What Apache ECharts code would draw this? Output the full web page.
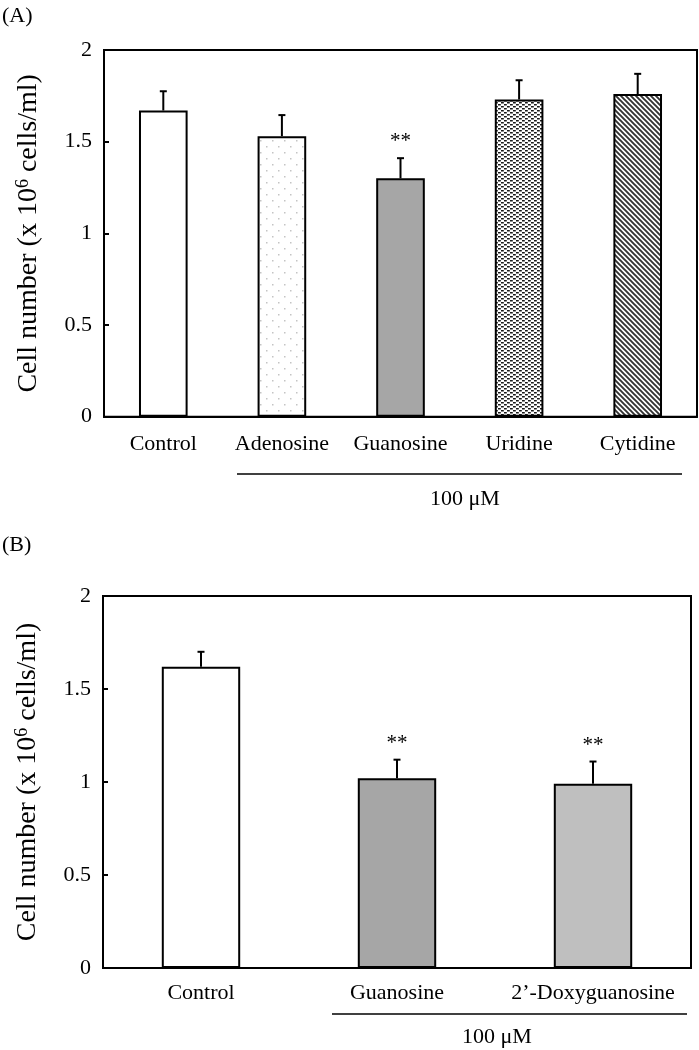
<!DOCTYPE html>
<html>
<head>
<meta charset="utf-8">
<script src="https://cdn.jsdelivr.net/npm/echarts@6/dist/echarts.min.js"></script>
<style>
  html, body { margin: 0; padding: 0; background: #fff; }
  #main { width: 699px; height: 1050px; }
</style>
</head>
<body>
<div id="main"></div>
<script>
// panel A data
const catsA = ['Control', 'Adenosine', 'Guanosine', 'Uridine', 'Cytidine'];
const meanA = [1.67, 1.53, 1.30, 1.73, 1.76];
const errA = [0.105, 0.115, 0.11, 0.105, 0.11];
const sigA = ['', '', '**', '', ''];

// panel B data
const catsB = ['Control', 'Guanosine', '2\u2019-Doxyguanosine'];
const meanB = [1.62, 1.02, 0.99];
const errB = [0.08, 0.10, 0.12];
const sigB = ['', '**', '**'];

const yTicks = [0, 0.5, 1, 1.5, 2];
const FONT = '"Liberation Serif", "Times New Roman", serif';

// small canvas tiles for bar fills
function tile(w, h, draw) {
    const c = document.createElement('canvas');
    c.width = w; c.height = h;
    const ctx = c.getContext('2d');
    ctx.fillStyle = '#fff';
    ctx.fillRect(0, 0, w, h);
    draw(ctx);
    return { image: c, repeat: 'repeat' };
}
const dotsLight = tile(12, 12, ctx => {
    ctx.fillStyle = '#c4c4c4';
    ctx.fillRect(2, 2, 1.5, 1.5);
    ctx.fillRect(8, 8, 1.5, 1.5);
});
const dashDense = tile(6, 4, ctx => {
    ctx.fillStyle = '#1a1a1a';
    ctx.fillRect(0, 0, 2.8, 1.5);
    ctx.fillRect(3, 2, 2.8, 1.5);
});
const diagStripes = tile(5, 5, ctx => {
    ctx.strokeStyle = '#333';
    ctx.lineWidth = 1.9;
    ctx.beginPath();
    ctx.moveTo(-1, -1); ctx.lineTo(6, 6);
    ctx.moveTo(-6, -1); ctx.lineTo(1, 6);
    ctx.moveTo(4, -1); ctx.lineTo(11, 6);
    ctx.stroke();
});

const fillsA = ['#ffffff', dotsLight, '#a6a6a6', dashDense, diagStripes];
const fillsB = ['#ffffff', '#a6a6a6', '#bfbfbf'];

function barData(means, fills) {
    return means.map((v, i) => ({ value: v, itemStyle: { color: fills[i] } }));
}
function errData(means, errs, sigs) {
    return means.map((v, i) => [i, v, v + errs[i], sigs[i]]);
}

function renderErr(params, api) {
    const base = api.coord([api.value(0), api.value(1)]);
    const top = api.coord([api.value(0), api.value(2)]);
    const sig = params.seriesIndex === 1 ? sigA[params.dataIndex] : sigB[params.dataIndex];
    const style = { stroke: '#000', lineWidth: 2 };
    const children = [
        { type: 'line', shape: { x1: base[0], y1: base[1], x2: top[0], y2: top[1] }, style: style },
        { type: 'line', shape: { x1: top[0] - 3.5, y1: top[1], x2: top[0] + 3.5, y2: top[1] }, style: style }
    ];
    if (sig) {
        children.push({
            type: 'text',
            style: {
                text: sig, x: top[0], y: top[1] - 6,
                align: 'center', verticalAlign: 'bottom',
                font: '21px ' + FONT, fill: '#000'
            }
        });
    }
    return { type: 'group', children: children };
}

function yAxisFor(gridIndex) {
    return {
        type: 'value', gridIndex: gridIndex,
        min: yTicks[0], max: yTicks[yTicks.length - 1], interval: 0.5,
        name: 'Cell number (x 10{sup|6} cells/ml)',
        nameLocation: 'middle', nameGap: 61,
        nameTextStyle: {
            fontFamily: FONT, fontSize: 28, color: '#000',
            rich: { sup: { fontFamily: FONT, fontSize: 18, color: '#000', verticalAlign: 'top', padding: [0, 0, 11, 0] } }
        },
        axisLine: { show: true, lineStyle: { color: '#000', width: 2 } },
        axisTick: { show: true, inside: true, length: 5, lineStyle: { color: '#000', width: 2 } },
        axisLabel: { fontFamily: FONT, fontSize: 22, color: '#000', margin: 12 },
        splitLine: { show: false }
    };
}
function xAxisFor(gridIndex, cats, margin) {
    return {
        type: 'category', gridIndex: gridIndex, data: cats,
        axisLine: { show: true, lineStyle: { color: '#000', width: 2 } },
        axisTick: { show: false },
        axisLabel: { fontFamily: FONT, fontSize: 22, color: '#000', margin: margin, interval: 0 }
    };
}

const chart = echarts.init(document.getElementById('main'), null, { renderer: 'canvas' });

const option = {
    animation: false,
    backgroundColor: '#fff',
    grid: [
        { left: 104, top: 50, right: 2, height: 366.7, show: true, borderColor: '#000', borderWidth: 2 },
        { left: 103, top: 596, right: 8, height: 372, show: true, borderColor: '#000', borderWidth: 2 }
    ],
    xAxis: [xAxisFor(0, catsA, 17), xAxisFor(1, catsB, 14)],
    yAxis: [yAxisFor(0), yAxisFor(1)],
    series: [
        {
            type: 'bar', xAxisIndex: 0, yAxisIndex: 0, barWidth: '41%',
            itemStyle: { borderColor: '#000', borderWidth: 2 },
            data: barData(meanA, fillsA)
        },
        {
            type: 'custom', xAxisIndex: 0, yAxisIndex: 0, renderItem: renderErr,
            encode: { x: 0, y: [1, 2] }, z: 5,
            data: errData(meanA, errA, sigA)
        },
        {
            type: 'bar', xAxisIndex: 1, yAxisIndex: 1, barWidth: '40%',
            itemStyle: { borderColor: '#000', borderWidth: 2 },
            data: barData(meanB, fillsB)
        },
        {
            type: 'custom', xAxisIndex: 1, yAxisIndex: 1, renderItem: renderErr,
            encode: { x: 0, y: [1, 2] }, z: 5,
            data: errData(meanB, errB, sigB)
        }
    ],
    graphic: [
        { type: 'text', left: 2, top: 5, style: { text: '(A)', font: '22px ' + FONT, fill: '#000' } },
        { type: 'text', left: 2, top: 534, style: { text: '(B)', font: '22px ' + FONT, fill: '#000' } },
        { type: 'line', shape: { x1: 237, y1: 474, x2: 682, y2: 474 }, style: { stroke: '#000', lineWidth: 1.5 } },
        { type: 'text', x: 465, y: 499, style: { text: '100 \u03bcM', font: '22px ' + FONT, fill: '#000', align: 'center', verticalAlign: 'middle' } },
        { type: 'line', shape: { x1: 332, y1: 1014, x2: 687, y2: 1014 }, style: { stroke: '#000', lineWidth: 1.5 } },
        { type: 'text', x: 497, y: 1037, style: { text: '100 \u03bcM', font: '22px ' + FONT, fill: '#000', align: 'center', verticalAlign: 'middle' } }
    ]
};

chart.setOption(option);
</script>
</body>
</html>
